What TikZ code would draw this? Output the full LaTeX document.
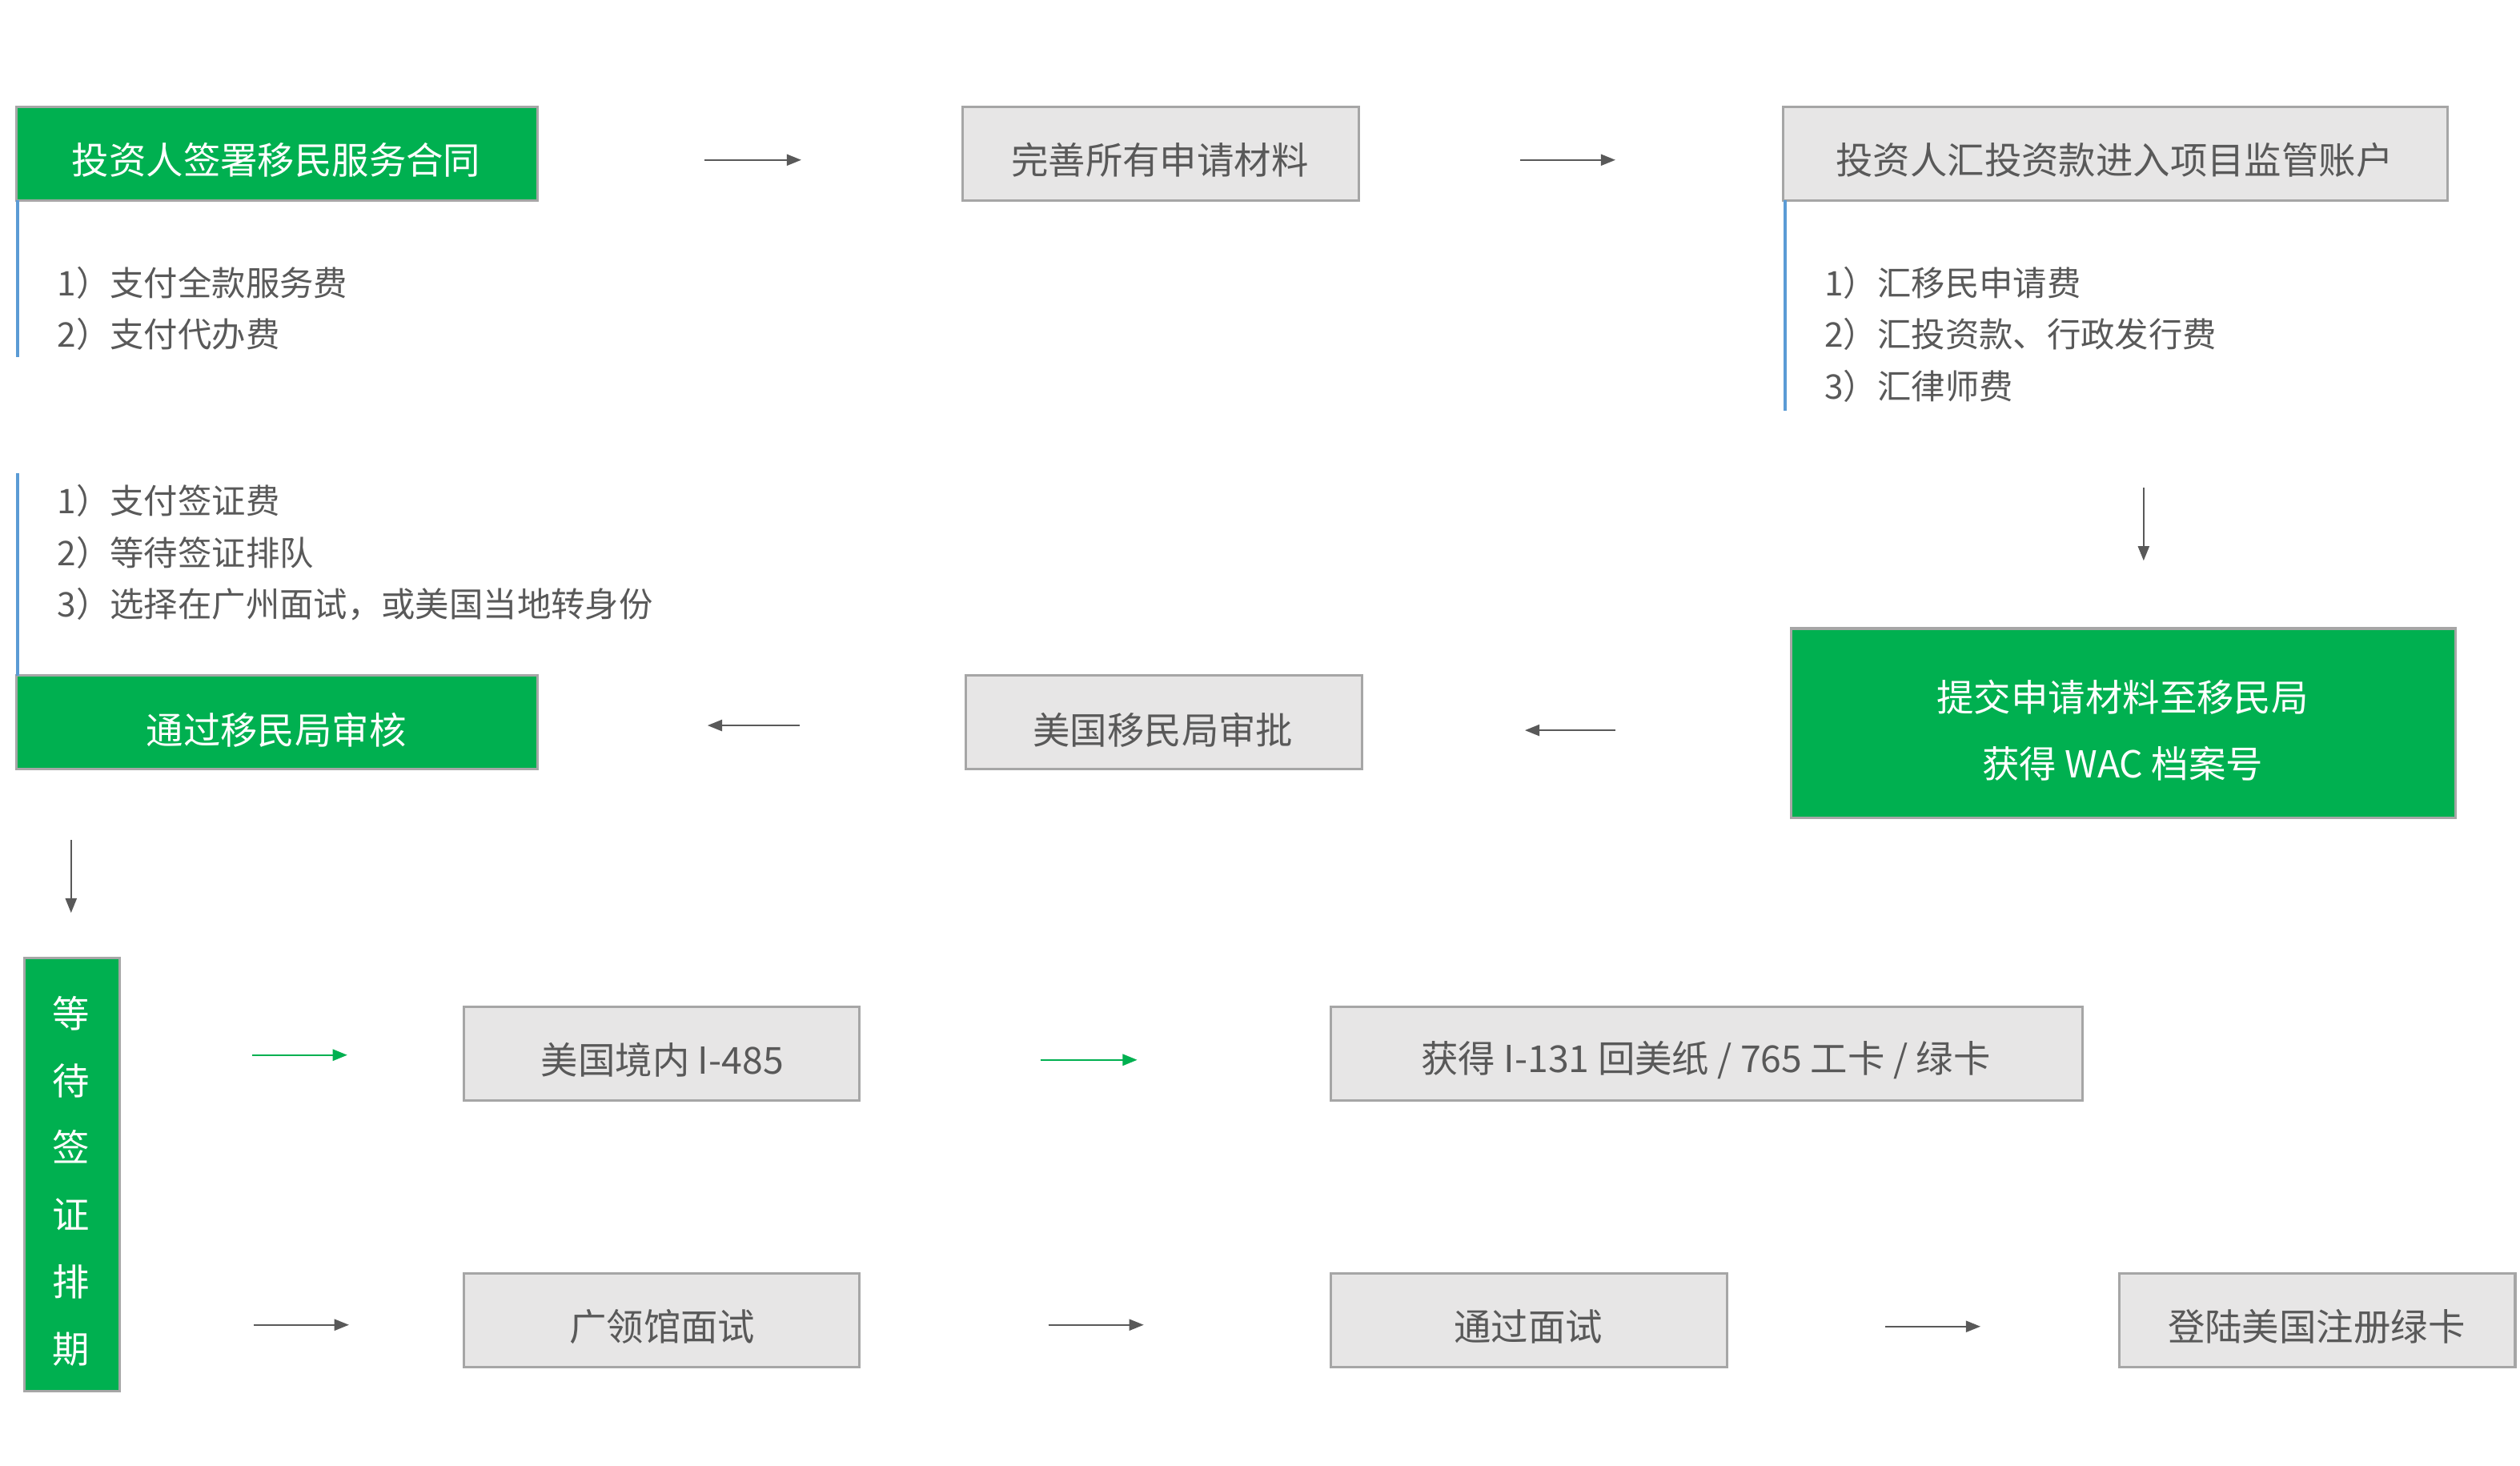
\documentclass[tikz,border=0pt]{standalone}
\usepackage{fontspec}
\setmainfont{Noto Sans CJK SC}
\usetikzlibrary{arrows.meta}
\definecolor{grn}{HTML}{00B050}
\definecolor{gfill}{HTML}{E7E6E6}
\definecolor{gline}{HTML}{A6A6A6}
\definecolor{txt}{HTML}{595959}
\definecolor{blu}{HTML}{5B9BD5}
\begin{document}
\begin{tikzpicture}[x=1pt,y=-1pt,
  gbox/.style={draw=gline,line width=1.5pt,fill=grn,text=white,font=\fontsize{23}{28}\selectfont},
  ybox/.style={draw=gline,line width=1.5pt,fill=gfill,text=txt,font=\fontsize{23}{28}\selectfont},
  lst/.style={text=txt,font=\fontsize{21}{32}\selectfont,anchor=west,align=left},
  arr/.style={draw=txt,line width=1pt,-{Triangle[length=9pt,width=7pt]}},
  garr/.style={draw=grn,line width=1.2pt,-{Triangle[length=9pt,width=7pt]}},
  bl/.style={draw=blu,line width=2pt}]
\useasboundingbox (0,0) rectangle (1560,907);
\fill[white] (0,0) rectangle (1560,907);
% row 1
\draw[gbox] (10,66) rectangle (333,124);
\node[text=white,font=\fontsize{23}{28}\selectfont] (b1) at (171,99) {投资人签署移民服务合同};
\draw[ybox] (596,66) rectangle (841,124);
\node[text=txt,font=\fontsize{23}{28}\selectfont] (b2) at (718,99) {完善所有申请材料};
\draw[ybox] (1104,66) rectangle (1515,124);
\node[text=txt,font=\fontsize{23}{28}\selectfont] (b3) at (1309,99) {投资人汇投资款进入项目监管账户};
\coordinate (a1s) at (436,99); \coordinate (a1e) at (496,99);
\draw[arr] (a1s) -- (a1e);
\coordinate (a2s) at (941,99); \coordinate (a2e) at (1000,99);
\draw[arr] (a2s) -- (a2e);
\coordinate (l1s) at (11,124); \coordinate (l1e) at (11,221);
\draw[bl] (l1s) -- (l1e);
\node[lst] (t1) at (32,191) {1）支付全款服务费\\2）支付代办费};
\coordinate (l3s) at (1105,124); \coordinate (l3e) at (1105,254);
\draw[bl] (l3s) -- (l3e);
\node[lst] (t3) at (1126,207) {1）汇移民申请费\\2）汇投资款、行政发行费\\3）汇律师费};
\coordinate (d1s) at (1327,302); \coordinate (d1e) at (1327,347);
\draw[arr] (d1s) -- (d1e);
% row 2
\draw[gbox] (1109,389) rectangle (1520,506);
\node[text=white,font=\fontsize{23}{41}\selectfont,align=center] (b4) at (1314,452) {提交申请材料至移民局\\获得 WAC 档案号};
\draw[ybox] (598,418) rectangle (843,476);
\node[text=txt,font=\fontsize{23}{28}\selectfont] (b5) at (720,452) {美国移民局审批};
\draw[gbox] (10,418) rectangle (333,476);
\node[text=white,font=\fontsize{23}{28}\selectfont] (b6) at (171,452) {通过移民局审核};
\coordinate (a3s) at (1000,452); \coordinate (a3e) at (944,452);
\draw[arr] (a3s) -- (a3e);
\coordinate (a4s) at (495,449); \coordinate (a4e) at (438,449);
\draw[arr] (a4s) -- (a4e);
\coordinate (l6s) at (11,293); \coordinate (l6e) at (11,418);
\draw[bl] (l6s) -- (l6e);
\node[lst] (t6) at (32,342) {1）支付签证费\\2）等待签证排队\\3）选择在广州面试，或美国当地转身份};
\coordinate (d2s) at (44,520); \coordinate (d2e) at (44,565);
\draw[arr] (d2s) -- (d2e);
% row 3/4
\draw[gbox] (15,593) rectangle (74,861);
\node[text=white,font=\fontsize{23}{41.5}\selectfont,align=center] (v) at (44,731) {等\\待\\签\\证\\排\\期};
\draw[ybox] (287,623) rectangle (532,681);
\node[text=txt,font=\fontsize{23}{28}\selectfont] (c1) at (410,656) {美国境内 I-485};
\draw[ybox] (824,623) rectangle (1289,681);
\node[text=txt,font=\fontsize{23}{28}\selectfont] (c2) at (1056,656) {获得 I-131 回美纸 / 765 工卡 / 绿卡};
\coordinate (g1s) at (156,653); \coordinate (g1e) at (215,653);
\draw[garr] (g1s) -- (g1e);
\coordinate (g2s) at (644,656); \coordinate (g2e) at (704,656);
\draw[garr] (g2s) -- (g2e);
\draw[ybox] (287,788) rectangle (532,846);
\node[text=txt,font=\fontsize{23}{28}\selectfont] (e1) at (410,821) {广领馆面试};
\draw[ybox] (824,788) rectangle (1069,846);
\node[text=txt,font=\fontsize{23}{28}\selectfont] (e2) at (946,821) {通过面试};
\draw[ybox] (1312,788) rectangle (1557,846);
\node[text=txt,font=\fontsize{23}{28}\selectfont] (e3) at (1434,821) {登陆美国注册绿卡};
\coordinate (h1s) at (157,820); \coordinate (h1e) at (216,820);
\draw[arr] (h1s) -- (h1e);
\coordinate (h2s) at (649,820); \coordinate (h2e) at (708,820);
\draw[arr] (h2s) -- (h2e);
\coordinate (h3s) at (1167,821); \coordinate (h3e) at (1226,821);
\draw[arr] (h3s) -- (h3e);
\end{tikzpicture}
\end{document}
